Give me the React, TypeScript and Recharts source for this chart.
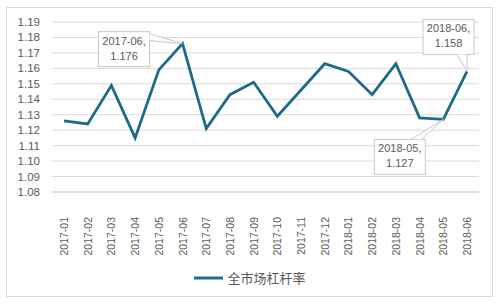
import React from "react";
import { LineChart, Line, XAxis, YAxis, CartesianGrid, Legend, LabelList } from "recharts";

const months = [
  "2017-01", "2017-02", "2017-03", "2017-04", "2017-05", "2017-06",
  "2017-07", "2017-08", "2017-09", "2017-10", "2017-11", "2017-12",
  "2018-01", "2018-02", "2018-03", "2018-04", "2018-05", "2018-06",
];
const leverage = [
  1.126, 1.124, 1.149, 1.115, 1.159, 1.176,
  1.121, 1.143, 1.151, 1.129, 1.146, 1.163,
  1.158, 1.143, 1.163, 1.128, 1.127, 1.158,
];
const yTicks = [1.08, 1.09, 1.1, 1.11, 1.12, 1.13, 1.14, 1.15, 1.16, 1.17, 1.18, 1.19];
const seriesName = "全市场杠杆率";
const calloutIdx = [5, 16, 17];

const data = months.map((m, i) => ({ month: m, value: leverage[i] }));

const LINE = "#1f6a8a";
const TXT = "#595959";
const FONT = "'Liberation Sans', 'Noto Sans CJK SC', sans-serif";

const XTick = (props: any) => {
  const { x, payload } = props;
  const y = 217;
  return (
    <text
      x={x}
      y={y}
      transform={`rotate(-90, ${x}, ${y})`}
      textAnchor="end"
      dominantBaseline="central"
      fontSize={10.5}
      fill={TXT}
      fontFamily={FONT}
    >
      {payload.value}
    </text>
  );
};

const YTick = (props: any) => {
  const { y, payload } = props;
  return (
    <text x={40} y={y} textAnchor="end" dominantBaseline="central" fontSize={11.5} fill={TXT} fontFamily={FONT}>
      {payload.value.toFixed(2)}
    </text>
  );
};

const Callout = (props: any) => {
  const { x, y, index, value } = props;
  if (!calloutIdx.includes(index)) return null;
  const label1 = months[index] + ",";
  const label2 = value.toFixed(3);
  let bx = 0, by = 0, w = 51, h = 35, wedge: string = "";
  if (index === 5) {
    bx = x - 84; by = y - 12;
    wedge = `M${bx + w},${by + 2} L${x},${y} L${bx + w},${by + 9}`;
  } else if (index === 16) {
    bx = x - 69; by = y + 20;
    wedge = `M${bx + w - 14},${by} L${x},${y} L${bx + w - 4},${by}`;
  } else {
    bx = x - 44; by = y - 52;
    wedge = `M${bx + 34},${by + h} L${x},${y} L${bx + 44},${by + h}`;
  }
  return (
    <g>
      <rect x={bx} y={by} width={w} height={h} fill="#ffffff" stroke="#c8c8c8" strokeWidth={1} />
      <path d={wedge} fill="#ffffff" stroke="#c8c8c8" strokeWidth={1} />
      <text x={bx + w / 2} y={by + 13} textAnchor="middle" fontSize={11} fill={TXT} fontFamily={FONT}>
        {label1}
      </text>
      <text x={bx + w / 2} y={by + 28} textAnchor="middle" fontSize={11} fill={TXT} fontFamily={FONT}>
        {label2}
      </text>
    </g>
  );
};

const LegendContent = () => (
  <div style={{ display: "flex", justifyContent: "center", alignItems: "center", fontFamily: FONT }}>
    <svg width={30} height={10} style={{ marginRight: 3 }}>
      <line x1={0} y1={5} x2={29} y2={5} stroke={LINE} strokeWidth={3} />
    </svg>
    <span style={{ fontSize: 13, color: TXT, fontFamily: "'Noto Sans CJK SC', sans-serif" }}>{seriesName}</span>
  </div>
);

export default function App() {
  return (
    <div style={{ position: "absolute", left: 0, top: 0, width: 500, height: 307, background: "#fff" }}>
      <div
        style={{
          position: "absolute",
          left: 6,
          top: 7,
          width: 487,
          height: 290,
          border: "1px solid #d9d9d9",
          boxSizing: "border-box",
        }}
      />
      <LineChart
        width={500}
        height={307}
        data={data}
        margin={{ top: 22, right: 21, bottom: 36, left: 0 }}
      >
        <CartesianGrid vertical={false} stroke="#d9d9d9" strokeWidth={1} />
        <XAxis
          dataKey="month"
          height={60}
          interval={0}
          padding={{ left: 12, right: 12 }}
          tick={<XTick />}
          tickLine={false}
          axisLine={{ stroke: "#d0d0d0" }}
        />
        <YAxis
          width={52}
          domain={[1.08, 1.19]}
          ticks={yTicks}
          tick={<YTick />}
          tickLine={false}
          axisLine={false}
          interval={0}
        />
        <Legend
          verticalAlign="bottom"
          content={<LegendContent />}
          wrapperStyle={{ position: "absolute", top: 268, left: 0, width: 500 }}
        />
        <Line
          dataKey="value"
          name={seriesName}
          stroke={LINE}
          strokeWidth={2.8}
          dot={false}
          isAnimationActive={false}
          strokeLinejoin="miter"
        >
          <LabelList dataKey="value" content={<Callout />} />
        </Line>
      </LineChart>
    </div>
  );
}
